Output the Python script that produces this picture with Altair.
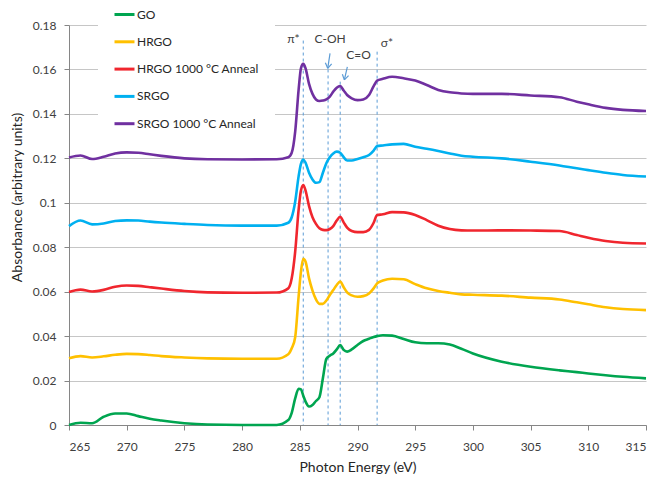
import math
import altair as alt
import pandas as pd

# ---------------- data ----------------
energy = [265, 266, 267, 268, 269, 270, 271, 272, 273, 275, 277, 280, 283,
          284, 284.3, 284.6, 284.9, 285.1, 285.3, 285.5, 285.8, 286.1, 286.4,
          286.7, 287.0, 287.3, 287.6, 287.9, 288.2, 288.5, 288.8, 289.1, 289.5,
          290.0, 290.5, 291.0, 291.4, 291.7, 292.2, 293, 294, 295, 296, 297,
          298, 299, 300, 302.5, 305, 307.5, 309, 310, 311.5, 313, 315]

go = [0.0000, 0.0010, 0.0008, 0.0037, 0.0052, 0.0052, 0.0040, 0.0028, 0.0020,
      0.0008, 0.0002, 0.0000, 0.0000,
      0.0022, 0.0055, 0.0120, 0.0163, 0.0160, 0.0132, 0.0105, 0.0083, 0.0090,
      0.0108, 0.0125, 0.0210, 0.0298, 0.0312, 0.0322, 0.0340, 0.0360, 0.0338,
      0.0330, 0.0340, 0.0360, 0.0378, 0.0388, 0.0396, 0.0400, 0.0404, 0.0402,
      0.0387, 0.0372, 0.0368, 0.0368, 0.0362, 0.0343, 0.0322, 0.0285, 0.0262,
      0.0246, 0.0238, 0.0232, 0.0224, 0.0217, 0.0210]

hrgo = [0.0300, 0.0310, 0.0304, 0.0309, 0.0316, 0.0320, 0.0319, 0.0315, 0.0310,
        0.0304, 0.0300, 0.0298, 0.0298,
        0.0318, 0.0345, 0.0395, 0.0580, 0.0690, 0.0748, 0.0735, 0.0660, 0.0605,
        0.0565, 0.0545, 0.0545, 0.0560, 0.0585, 0.0607, 0.0630, 0.0645, 0.0620,
        0.0597, 0.0583, 0.0577, 0.0580, 0.0592, 0.0615, 0.0637, 0.0650, 0.0658,
        0.0656, 0.0634, 0.0615, 0.0603, 0.0595, 0.0588, 0.0586, 0.0582, 0.0573,
        0.0565, 0.0552, 0.0543, 0.0530, 0.0522, 0.0517]

hrgo_anneal = [0.0598, 0.0609, 0.0601, 0.0608, 0.0622, 0.0628, 0.0626, 0.0620,
               0.0614, 0.0603, 0.0597, 0.0595, 0.0596,
               0.0615, 0.0660, 0.0780, 0.0970, 0.1055, 0.1080, 0.1055, 0.0985,
               0.0935, 0.0905, 0.0885, 0.0878, 0.0877, 0.0882, 0.0895, 0.0920,
               0.0937, 0.0912, 0.0888, 0.0873, 0.0868, 0.0868, 0.0878, 0.0910,
               0.0945, 0.0948, 0.0958, 0.0957, 0.0945, 0.0922, 0.0897, 0.0882,
               0.0876, 0.0875, 0.0876, 0.0875, 0.0873, 0.0855, 0.0843, 0.0828,
               0.0820, 0.0817]

srgo = [0.0895, 0.0920, 0.0903, 0.0907, 0.0918, 0.0921, 0.0920, 0.0915, 0.0911,
        0.0905, 0.0900, 0.0897, 0.0897,
        0.0910, 0.0935, 0.1005, 0.1120, 0.1175, 0.1195, 0.1180, 0.1135, 0.1105,
        0.1090, 0.1093, 0.1135, 0.1178, 0.1205, 0.1222, 0.1230, 0.1225, 0.1205,
        0.1190, 0.1190, 0.1197, 0.1205, 0.1215, 0.1235, 0.1255, 0.1258, 0.1263,
        0.1265, 0.1252, 0.1243, 0.1233, 0.1222, 0.1212, 0.1207, 0.1200, 0.1185,
        0.1168, 0.1155, 0.1147, 0.1135, 0.1125, 0.1118]

srgo_anneal = [0.1204, 0.1213, 0.1197, 0.1207, 0.1222, 0.1227, 0.1225, 0.1218,
               0.1211, 0.1200, 0.1196, 0.1195, 0.1196,
               0.1205, 0.1225, 0.1320, 0.1510, 0.1605, 0.1625, 0.1605, 0.1535,
               0.1490, 0.1465, 0.1458, 0.1460, 0.1465, 0.1478, 0.1500, 0.1518,
               0.1525, 0.1505, 0.1485, 0.1470, 0.1462, 0.1465, 0.1485, 0.1525,
               0.1550, 0.1558, 0.1567, 0.1560, 0.1550, 0.1530, 0.1508, 0.1497,
               0.1492, 0.1490, 0.1490, 0.1483, 0.1475, 0.1455, 0.1443, 0.1427,
               0.1418, 0.1413]

series_names = ["GO", "HRGO", "HRGO 1000 \u00b0C Anneal", "SRGO",
                "SRGO 1000 \u00b0C Anneal"]
series_colors = ["#00a550", "#ffc000", "#f0262e", "#00b0f0", "#7030a0"]

# peak marker lines (dashed)
marker_energy = [285.3, 287.45, 288.5, 291.7]
marker_top = [0.1730, 0.1600, 0.1545, 0.1680]

# annotation labels
label_text = ["\u03c0*", "C-OH", "C=O", "\u03c3*"]
label_energy = [284.45, 287.62, 290.1, 292.55]
label_value = [0.1735, 0.1738, 0.1666, 0.1720]

# arrows: (start energy, start value) -> (tip energy, tip value)
arrow_from_e = [287.62, 289.12]
arrow_from_v = [0.1672, 0.1612]
arrow_to_e = [287.42, 288.86]
arrow_to_v = [0.1605, 0.1553]

x_ticks = [265, 270, 275, 280, 285, 290, 295, 300, 305, 310, 315]
y_ticks = [0, 0.02, 0.04, 0.06, 0.08, 0.1, 0.12, 0.14, 0.16, 0.18]

# ---------------- layout ----------------
W, H = 577, 400
X_DOM = [265, 315]
Y_DOM = [0, 0.18]
FONT = "Lato"
px_per_e = W / (X_DOM[1] - X_DOM[0])
px_per_v = H / (Y_DOM[1] - Y_DOM[0])

rows = []
for name, vals in zip(series_names,
                      [go, hrgo, hrgo_anneal, srgo, srgo_anneal]):
    for e, v in zip(energy, vals):
        rows.append({"energy": e, "absorbance": v, "series": name})
df = pd.DataFrame(rows)

markers = pd.DataFrame({"energy": marker_energy, "absorbance": marker_top,
                        "base": [0.0] * len(marker_energy)})
labels = pd.DataFrame({"energy": label_energy, "absorbance": label_value,
                       "text": label_text})

# arrow shafts + heads
seg = []
for x0, y0, x1, y1 in zip(arrow_from_e, arrow_from_v, arrow_to_e, arrow_to_v):
    seg.append({"energy": x0, "absorbance": y0, "e2": x1, "v2": y1})
    dx = (x1 - x0) * px_per_e
    dy = (y1 - y0) * px_per_v
    L = math.hypot(dx, dy)
    bx, by = -dx / L, -dy / L
    for ang in (math.radians(32), math.radians(-32)):
        hx = bx * math.cos(ang) - by * math.sin(ang)
        hy = bx * math.sin(ang) + by * math.cos(ang)
        seg.append({"energy": x1, "absorbance": y1,
                    "e2": x1 + hx * 6 / px_per_e,
                    "v2": y1 + hy * 6 / px_per_v})
arrows = pd.DataFrame(seg)

x_scale = alt.Scale(domain=X_DOM, nice=False, zero=False)
y_scale = alt.Scale(domain=Y_DOM, nice=False, zero=False)

x_enc = alt.X("energy:Q", scale=x_scale,
              axis=alt.Axis(title="Photon Energy (eV)", values=x_ticks,
                            grid=False, tickSize=5, labelPadding=11,
                            titlePadding=8, format="d"))
y_enc = alt.Y("absorbance:Q", scale=y_scale,
              axis=alt.Axis(title="Absorbance (arbitrary units)",
                            values=y_ticks, grid=True, tickSize=5,
                            labelPadding=8, format="~g",
                            titleX=-45, titleY=172))

marker_layer = alt.Chart(markers).mark_rule(
    color="#5b9bd5", strokeWidth=1, strokeDash=[3, 3]
).encode(x=x_enc, y=y_enc, y2="base:Q")

lines = alt.Chart(df).mark_line(strokeWidth=2.6, interpolate="monotone").encode(
    x="energy:Q",
    y="absorbance:Q",
    color=alt.Color(
        "series:N",
        scale=alt.Scale(domain=series_names, range=series_colors),
        legend=alt.Legend(
            title=None, orient="none", legendX=29, legendY=-37,
            symbolType="stroke", symbolSize=400, symbolStrokeWidth=3,
            labelFont=FONT, labelFontSize=12, labelColor="#262626",
            labelOffset=1, rowPadding=9.3, padding=15, fillColor="white",
            strokeColor="white",
        ),
    ),
)

arrow_layer = alt.Chart(arrows).mark_rule(color="#5b9bd5", strokeWidth=1.2).encode(
    x="energy:Q", y="absorbance:Q", x2="e2:Q", y2="v2:Q")

text_layer = alt.Chart(labels).mark_text(
    font=FONT, fontSize=12, color="#404040", align="center", baseline="middle"
).encode(x="energy:Q", y="absorbance:Q", text="text:N")

chart = alt.layer(marker_layer, lines, arrow_layer, text_layer).properties(
    width=W, height=H,
    autosize=alt.AutoSizeParams(type="none"),
    padding={"left": 61, "top": 17, "right": 8, "bottom": 50},
).configure_view(stroke=None).configure_axis(
    labelFont=FONT, titleFont=FONT, labelFontSize=12, titleFontSize=14,
    titleFontWeight="normal", labelColor="#404040", titleColor="#262626",
    domainColor="#868686", tickColor="#868686", gridColor="#c6c6c6",
    gridWidth=1,
)

chart.save("out.html", embed_options={"renderer": "svg", "actions": False})
